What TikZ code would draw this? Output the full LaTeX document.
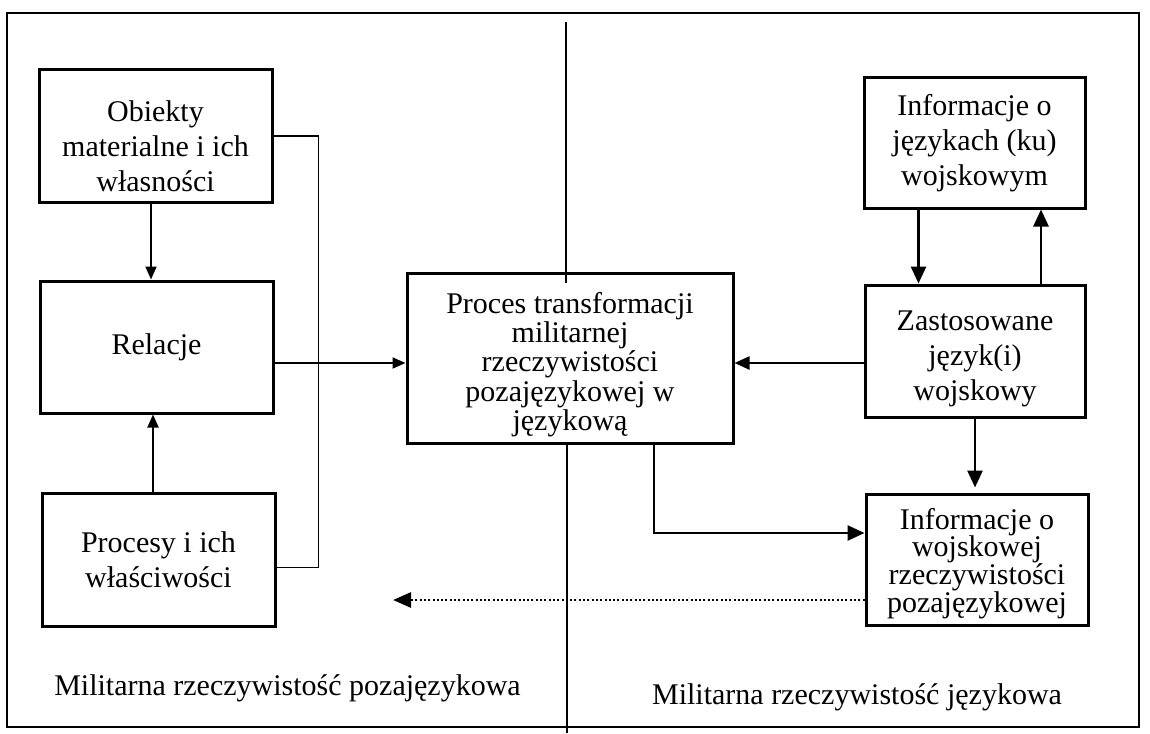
\documentclass[tikz,border=0pt]{standalone}
\usepackage{fontspec}
\setmainfont{Liberation Serif}
\usetikzlibrary{arrows.meta,calc}
\begin{document}
\begin{tikzpicture}[x=1pt,y=-1pt,
  boxshape/.style={draw, line width=3pt, fill=white, inner sep=0pt},
  txt/.style={align=center, inner sep=0pt},
  fA/.style={font=\fontsize{30}{35}\selectfont},
  fB/.style={font=\fontsize{30}{29.3}\selectfont},
  fC/.style={font=\fontsize{30}{27.7}\selectfont},
  thinline/.style={line width=1.8pt},
  thinarrow/.style={line width=1.8pt, -{Triangle[length=13pt,width=11pt]}},
  medarrow/.style={line width=2.3pt, -{Triangle[length=15pt,width=13pt]}},
  thickarrow/.style={line width=2.8pt, -{Triangle[length=17pt,width=15pt]}},
  dotarrow/.style={line width=2.8pt, dash pattern=on 2pt off 2.3pt, -{Triangle[length=18pt,width=15pt]}}
]
\useasboundingbox (0,0) rectangle (1150,733);
\fill[white] (0,0) rectangle (1150,733);
% outer frame
\draw[line width=2.3pt] (7,13) rectangle (1139,727);
% divider coordinates
\coordinate (divA) at (566,22);
\coordinate (divB) at (566,283);
\coordinate (divD) at (567,733);
\coordinate (dotend) at (393,600);

% boxes
\node[boxshape, minimum width=233pt, minimum height=132pt] (obj) at (155.5,136) {};
\node[boxshape, minimum width=233pt, minimum height=132pt] (rel) at (156.5,347) {};
\node[boxshape, minimum width=233pt, minimum height=133pt] (proc) at (158.5,559.5) {};
\node[boxshape, minimum width=326pt, minimum height=170pt] (cen) at (570,358) {};
\node[boxshape, minimum width=221pt, minimum height=130pt] (infoj) at (974.5,143) {};
\node[boxshape, minimum width=220pt, minimum height=132pt] (zast) at (975,351) {};
\node[boxshape, minimum width=222pt, minimum height=131pt] (infow) at (977,559.5) {};

% texts
\node[txt, fA] (objT) at ([yshift=-10pt]obj.center) {Obiekty\\materialne i ich\\własności};
\node[txt, fA] (relT) at (rel.center) {Relacje};
\node[txt, fA] (procT) at (proc.center) {Procesy i ich\\właściwości};
\node[txt, fB] (cenT) at ([yshift=-6.5pt]cen.center) {Proces transformacji\\militarnej\\rzeczywistości\\pozajęzykowej w\\językową};
\node[txt, fA] (infojT) at (infoj.center) {Informacje o\\językach (ku)\\wojskowym};
\node[txt, fA] (zastT) at ([yshift=-8pt]zast.center) {Zastosowane\\język(i)\\wojskowy};
\node[txt, fC] (infowT) at ([yshift=-4pt]infow.center) {Informacje o\\wojskowej\\rzeczywistości\\pozajęzykowej};

% region labels
\node[txt, fA] (lblL) at (287.5,688) {Militarna rzeczywistość pozajęzykowa};
\node[txt, fA] (lblR) at (857,697) {Militarna rzeczywistość językowa};

% divider
\draw[thinline] (divA) -- (divB);
\draw[thinline] (cen.south -| divD) -- (divD);

% left connectors
\draw[thinarrow] ([xshift=-4.5pt]obj.south) -- ([xshift=-4.5pt]obj.south |- rel.north);
\draw[thinarrow] ([xshift=-5.5pt]proc.north) -- ([xshift=-5.5pt]proc.north |- rel.south);
\draw[thinline] (obj.east) -- ++(45,0) |- ([yshift=-8pt]proc.east);
\draw[thinarrow] ([yshift=-16pt]rel.east) -- ([yshift=-16pt]rel.east -| cen.west);

% right connectors
\draw[medarrow] ([yshift=-12pt]zast.west) -- ([yshift=-12pt]zast.west -| cen.east);
\draw[thickarrow] ([xshift=-56pt]infoj.south) -- ([xshift=-56pt]infoj.south |- zast.north);
\draw[thickarrow] ([xshift=66pt]zast.north) -- ([xshift=66pt]zast.north |- infoj.south);
\draw[thickarrow, shorten >=5pt] (zast.south) -- (zast.south |- infow.north);
\draw[thickarrow] ([xshift=84pt]cen.south) |- ([yshift=26.5pt]infow.west);
\draw[dotarrow] (infow.west |- dotend) -- (dotend);
\end{tikzpicture}
\end{document}
